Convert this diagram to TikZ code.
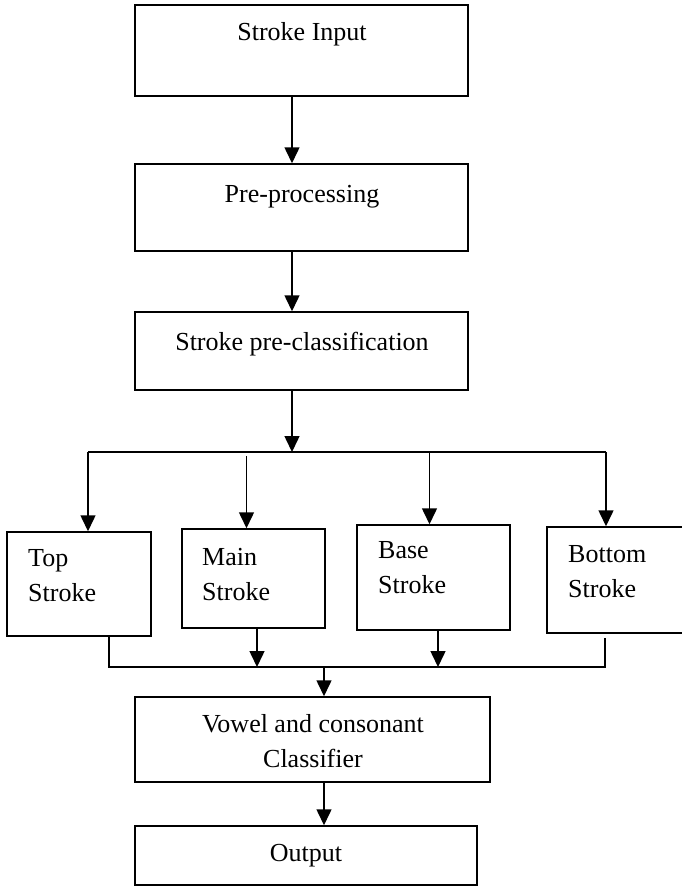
\documentclass[tikz,border=0pt]{standalone}
\usepackage{fontspec}
\setmainfont{Liberation Serif}
\usetikzlibrary{arrows.meta}
\begin{document}
\begin{tikzpicture}[x=1pt,y=-1pt,
  box/.style={draw,line width=1.5pt,inner sep=0pt,minimum width=#1},
  lbl/.style={inner sep=0pt,font=\fontsize{26}{35}\selectfont},
  link/.style={line width=1.5pt},
  arr/.style={line width=1.5pt,-{Triangle[width=15pt,length=16pt]}}]
\useasboundingbox (0,0) rectangle (681,887);

% main column of processing steps
\node[box=333pt,minimum height=91pt] (in)  at (301.5,50.5) {};
\node[box=333pt,minimum height=87pt] (pre) at (301.5,207.5) {};
\node[box=333pt,minimum height=78pt] (cls) at (301.5,351) {};
\node[lbl,anchor=base] (inT)  at (302,40)  {Stroke Input};
\node[lbl,anchor=base] (preT) at (302,202) {Pre-processing};
\node[lbl,anchor=base] (clsT) at (302,350) {Stroke pre-classification};

% the four stroke classes (labels anchored on their last line)
\node[box=144pt,minimum height=104pt] (top)  at (79,584)      {};
\node[box=143pt,minimum height=99pt]  (main) at (253.5,578.5) {};
\node[box=153pt,minimum height=105pt] (base) at (433.5,577.5) {};
\node[box=136pt,minimum height=106pt] (bot)  at (615,580)     {};
\node[lbl,anchor=base west,align=left] (topT)  at (28,601)  {Top\\Stroke};
\node[lbl,anchor=base west,align=left] (mainT) at (202,600) {Main\\Stroke};
\node[lbl,anchor=base west,align=left] (baseT) at (378,593) {Base\\Stroke};
\node[lbl,anchor=base west,align=left] (botT)  at (568,597) {Bottom\\Stroke};

% classifier and output
\node[box=355pt,minimum height=85pt] (vow) at (312.5,739.5) {};
\node[box=342pt,minimum height=59pt] (out) at (306,855.5) {};
\node[lbl,anchor=base,align=center] (vowT) at (313,767) {Vowel and consonant\\Classifier};
\node[lbl,anchor=base] (outT) at (306,861) {Output};

% routing points
\coordinate (spine) at (292,0);
\coordinate (busL) at (88,452);
\coordinate (busR) at (606,452);
\coordinate (mainIn) at (246.5,456);
\coordinate (baseIn) at (429.5,451);
\coordinate (joinL) at (109,667);
\coordinate (joinR) at (605,667);
\coordinate (mainOut) at (257,0);
\coordinate (baseOut) at (438,0);
\coordinate (down) at (324,0);

% connectors down the column
\draw[arr] (in.south -| spine) -- (pre.north -| spine);
\draw[arr] (pre.south -| spine) -- (cls.north -| spine);
\draw[arr] (cls.south -| spine) -- (spine |- busL);

% fan-out to the stroke classes
\draw[link] (busL) -- (busR);
\draw[arr] (busL) -- (busL |- top.north);
\draw[arr] (mainIn) -- (mainIn |- main.north);
\draw[arr] (baseIn) -- (baseIn |- base.north);
\draw[arr] (busR) -- (busR |- bot.north);

% fan-in to the classifier
\draw[link] (joinL |- top.south) -- (joinL) -- (joinR) -- ([yshift=-4pt]joinR |- bot.south);
\draw[arr] (mainOut |- main.south) -- (mainOut |- joinL);
\draw[arr] (baseOut |- base.south) -- (baseOut |- joinL);
\draw[arr] (down |- joinL) -- (down |- vow.north);
\draw[arr] (down |- vow.south) -- (down |- out.north);
\end{tikzpicture}
\end{document}
